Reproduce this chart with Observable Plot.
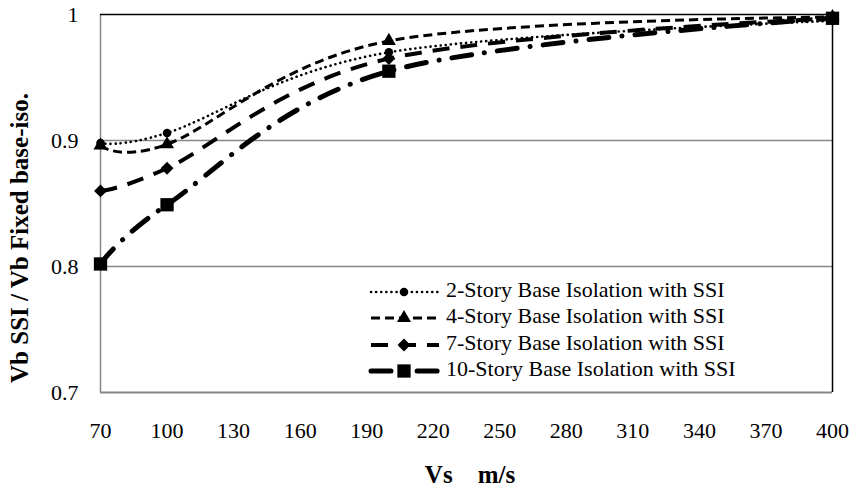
<!DOCTYPE html>
<html><head><meta charset="utf-8">
<script src="https://cdn.jsdelivr.net/npm/d3@7"></script>
<script src="https://cdn.jsdelivr.net/npm/@observablehq/plot@0.6"></script>
<style>
body{margin:0;background:#fff;}
svg text{font-family:"Liberation Serif","Times New Roman",serif;}
</style>
</head><body><div id="chart"></div>
<script>
const vs = [70, 100, 200, 400];
const story2 = [0.898, 0.906, 0.970, 0.995];
const story4 = [0.896, 0.897, 0.979, 0.998];
const story7 = [0.860, 0.878, 0.965, 0.997];
const story10 = [0.802, 0.849, 0.955, 0.997];
const seriesNames = ["2-Story Base Isolation with SSI","4-Story Base Isolation with SSI","7-Story Base Isolation with SSI","10-Story Base Isolation with SSI"];
const xTicks = [70,100,130,160,190,220,250,280,310,340,370,400];
const yTicks = [0.7,0.8,0.9,1];

const styles = [
  {dash:"0.1 5", w:2.6, cap:"round", symbol:"circle", r:4.3},
  {dash:"9 5", w:3, cap:"butt", symbol:"triangle", r:5.2},
  {dash:"17 11", w:4, cap:"butt", symbol:"diamond2", r:5.8},
  {dash:"20 13 0.1 13", w:5, cap:"round", symbol:"square", r:7.5}
];
const allSeries = [story2, story4, story7, story10];
const data = allSeries.map((vals,i)=>vs.map((x,j)=>({x, y:vals[j], s:seriesNames[i]})));

const marks = [
  Plot.ruleY([0.8,0.9], {stroke:"#868686", strokeWidth:1.5}),
  Plot.ruleX([70], {stroke:"#868686", strokeWidth:1.5}),
  Plot.ruleY([0.7], {stroke:"#868686", strokeWidth:2}),
  Plot.ruleY([1], {stroke:"#000", strokeWidth:1.5}),
  Plot.ruleX([400], {stroke:"#000", strokeWidth:1.5}),
  Plot.axisX({ticks:xTicks, tickSize:0, tickPadding:30, fontSize:22, tickFormat:d=>String(d), label:null}),
  Plot.axisY({ticks:yTicks, tickSize:0, tickPadding:22, fontSize:22, tickFormat:d=>d===1?"1":d3.format(".1f")(d), label:null})
];
data.forEach((d,i)=>{
  const st = styles[i];
  marks.push(Plot.line(d, {x:"x", y:"y", curve:"cardinal", stroke:"#000", strokeWidth:st.w, strokeDasharray:st.dash, strokeLinecap:st.cap}));
  marks.push(Plot.dot(d, {x:"x", y:"y", symbol:()=>st.symbol, r:st.r, fill:"#000", stroke:"none"}));
});

const chart = Plot.plot({
  width:860, height:499,
  marginLeft:100, marginRight:28, marginTop:14, marginBottom:107,
  x:{domain:[70,400]},
  y:{domain:[0.7,1]},
  style:{fontFamily:"Liberation Serif", color:"#000", background:"#fff"},
  marks
});
document.getElementById("chart").appendChild(chart);

const svg = d3.select(chart);
// axis titles
svg.append("text").attr("transform","translate(22,238) rotate(-90)")
  .attr("text-anchor","middle").attr("dominant-baseline","middle")
  .attr("font-size",25).attr("font-weight","bold").attr("fill","#000")
  .text("Vb SSI / Vb Fixed base-iso.");
svg.append("text").attr("x",470).attr("y",477)
  .attr("text-anchor","middle").attr("dominant-baseline","middle")
  .attr("font-size",25).attr("font-weight","bold").attr("fill","#000")
  .style("white-space","pre")
  .text("Vs    m/s");

// legend
const rowY = [292, 318, 345, 371];
const sym = {circle:d3.symbolCircle, triangle:d3.symbolTriangle, diamond2:d3.symbolDiamond2, square:d3.symbolSquare};
seriesNames.forEach((name,i)=>{
  const st = styles[i];
  const g = svg.append("g");
  g.append("line").attr("x1",371).attr("x2",439).attr("y1",rowY[i]).attr("y2",rowY[i])
    .attr("stroke","#000").attr("stroke-width",st.w).attr("stroke-dasharray",st.dash).attr("stroke-linecap",st.cap);
  g.append("path").attr("transform",`translate(404,${rowY[i]})`)
    .attr("d", d3.symbol(sym[st.symbol], Math.PI*st.r*st.r)()).attr("fill","#000");
  g.append("text").attr("x",446).attr("y",rowY[i]).attr("dominant-baseline","middle")
    .attr("text-anchor","start")
    .attr("font-size",22).attr("fill","#000").text(name);
});
</script>
</body></html>
